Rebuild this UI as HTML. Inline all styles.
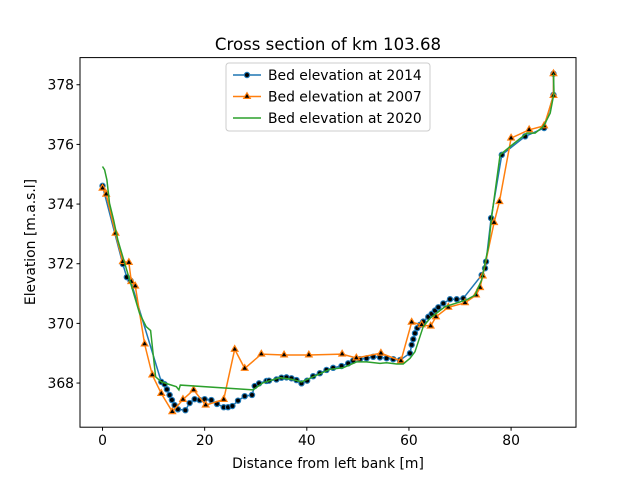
<!DOCTYPE html>
<html><head><meta charset="utf-8"><style>
body{margin:0;background:#fff;font-family:"Liberation Sans","DejaVu Sans",sans-serif}
svg text{font-family:"DejaVu Sans","Liberation Sans",sans-serif}
</style></head><body>
<svg id="chart" width="640" height="480" viewBox="0 0 640 480" xmlns="http://www.w3.org/2000/svg">
<rect width="640" height="480" fill="#fff"/>
<text x="328" y="50" font-size="16.6" text-anchor="middle" fill="#000">Cross section of km 103.68</text>
<text x="328" y="468" font-size="13.9" text-anchor="middle">Distance from left bank [m]</text>
<text x="0" y="0" font-size="13.9" text-anchor="middle" transform="translate(35,242) rotate(-90)">Elevation [m.a.s.l]</text>
<g id="plot"></g>
<rect x="80" y="57.6" width="496" height="369.6" fill="none" stroke="#000" stroke-width="1"/>
<g id="legend">
<rect x="226" y="63" width="204" height="68" rx="3" fill="#fff" fill-opacity="0.8" stroke="#ccc"/>
</g>
</svg>
<script>
const x14=[0,3.98,4.76,5.49,11.51,12.16,12.61,13.14,13.59,14.12,14.76,16.22,17.06,18.04,19.02,20.0,21.31,22.41,23.73,24.57,25.43,26.53,27.84,29.27,29.8,30.65,32.1,32.6,34.06,35.04,36.02,37.0,37.98,38.96,40.06,41.24,42.55,43.86,45.16,46.8,48.1,49.08,50.39,51.7,53.0,54.31,55.63,56.92,58.24,60.2,60.53,60.84,61.18,61.63,62.16,62.8,63.78,64.45,65.1,65.75,66.73,68.04,69.35,70.65,74.25,74.9,75.1,76.08,78.18,82.75,86.47,88.3,88.3];
const y14=[374.61,371.99,371.55,371.43,368.04,367.96,367.79,367.6,367.43,367.26,367.12,367.09,367.33,367.46,367.43,367.46,367.43,367.3,367.19,367.19,367.23,367.41,367.56,367.6,367.9,367.99,368.07,368.08,368.12,368.18,368.19,368.16,368.1,367.99,368.08,368.23,368.33,368.44,368.51,368.57,368.66,368.75,368.8,368.83,368.88,368.86,368.83,368.8,368.77,369.0,369.28,369.47,369.67,369.84,369.95,370.06,370.22,370.32,370.43,370.54,370.67,370.81,370.81,370.84,371.62,371.85,372.07,373.53,375.65,376.27,376.55,377.66,378.37];
const x07=[0,0.72,2.55,3.98,5.16,5.63,6.41,8.24,9.74,11.5,13.66,15.75,17.84,20.2,23.73,25.88,27.84,31.1,35.55,40.4,46.92,49.7,54.51,58.43,60.53,62.49,64.25,65.29,67.71,70.98,73.14,73.92,74.45,76.67,77.71,80.0,83.53,86.47,88.3,88.3];
const y07=[374.53,374.33,373.02,372.07,372.04,371.4,371.25,369.31,368.27,367.65,367.04,367.45,367.77,367.26,367.45,369.13,368.49,368.97,368.94,368.94,368.97,368.84,369.0,368.74,370.04,369.95,369.91,370.22,370.54,370.69,370.95,371.2,371.59,373.38,374.08,376.21,376.49,376.62,377.64,378.37];
const x20=[0,0.4,0.85,1.37,2.16,3.0,7.25,8.56,9.41,10.39,11.5,14.45,14.96,15.23,29.47,31.43,34.7,37.0,38.96,41.24,44.5,47.1,49.74,51.7,54.31,55.6,57.6,58.88,60.2,61.18,62.8,64.12,67.06,71.3,72.94,74.25,75.55,76.2,77.84,79.8,83.1,84.7,86.33,87.65,88.4,88.3];
const y20=[375.26,375.15,374.81,374.03,373.47,372.8,370.34,369.89,369.76,368.21,368.04,367.88,367.77,367.93,367.77,368.01,368.18,368.13,368.04,368.21,368.46,368.51,368.71,368.71,368.66,368.68,368.64,368.64,368.83,369.05,369.89,370.17,370.56,370.79,370.95,371.46,372.57,373.58,375.65,375.93,376.38,376.38,376.6,377.05,377.72,378.37];
const xTicks=[0,20,40,60,80];
const yTicks=[368,370,372,374,376,378];
const seriesNames=["Bed elevation at 2014","Bed elevation at 2007","Bed elevation at 2020"];

const X0=-4.41,X1=92.71,Y0=366.52,Y1=378.91;
const L=80,R=576,T=57.6,B=427.2;
const sx=v=>L+(v-X0)/(X1-X0)*(R-L);
const sy=v=>B-(v-Y0)/(Y1-Y0)*(B-T);
const NS="http://www.w3.org/2000/svg";
const plot=document.getElementById('plot');
function mk(tag,attrs,parent){const e=document.createElementNS(NS,tag);for(const k in attrs)e.setAttribute(k,attrs[k]);(parent||plot).appendChild(e);return e;}

xTicks.forEach(t=>{
  const g=mk('g',{});
  
  
  mk('line',{x1:sx(t),x2:sx(t),y1:B,y2:B+3.5,stroke:'#000'},g);
  const tx=mk('text',{x:sx(t),y:B+18,'font-size':'13.9','text-anchor':'middle'},g);tx.textContent=t;
});
yTicks.forEach(t=>{
  const g=mk('g',{});
  
  
  mk('line',{x1:L-3.5,x2:L,y1:sy(t),y2:sy(t),stroke:'#000'},g);
  const tx=mk('text',{x:L-6,y:sy(t)+5,'font-size':'13.9','text-anchor':'end'},g);tx.textContent=t;
});

function pts(xs,ys){return xs.map((v,i)=>sx(v).toFixed(1)+','+sy(ys[i]).toFixed(1)).join(' ');}
function tri(cx,cy,r){return `${cx},${cy-r} ${cx-r*0.87},${cy+r*0.5} ${cx+r*0.87},${cy+r*0.5}`;}

const g14=mk('g',{});


mk('polyline',{points:pts(x14,y14),fill:'none',stroke:'#1f77b4','stroke-width':1.5},g14);
x14.forEach((v,i)=>{const c=mk('circle',{cx:sx(v),cy:sy(y14[i]),r:2.6,fill:'#000',stroke:'#1f77b4','stroke-width':1.2},g14);
});

const g07=mk('g',{});


mk('polyline',{points:pts(x07,y07),fill:'none',stroke:'#ff7f0e','stroke-width':1.5},g07);
x07.forEach((v,i)=>{const p=mk('polygon',{points:tri(sx(v),sy(y07[i]),3.8),fill:'#000',stroke:'#ff7f0e','stroke-width':1.2},g07);
});

const g20=mk('g',{});


mk('polyline',{points:pts(x20,y20),fill:'none',stroke:'#2ca02c','stroke-width':1.5},g20);

const lg=document.getElementById('legend');
const colors=['#1f77b4','#ff7f0e','#2ca02c'];
seriesNames.forEach((n,i)=>{
  const y=75+i*21.5;
  const e=mk('g',{},lg);
  
  
  mk('line',{x1:233,x2:261,y1:y,y2:y,stroke:colors[i],'stroke-width':1.5},e);
  if(i===0)mk('circle',{cx:247,cy:y,r:2.6,fill:'#000',stroke:colors[0],'stroke-width':1.2},e);
  if(i===1)mk('polygon',{points:tri(247,y,3.8),fill:'#000',stroke:colors[1],'stroke-width':1.2},e);
  const t=mk('text',{x:268,y:y+5,'font-size':'13.9'},e);t.textContent=n;
});
</script>
</body></html>
